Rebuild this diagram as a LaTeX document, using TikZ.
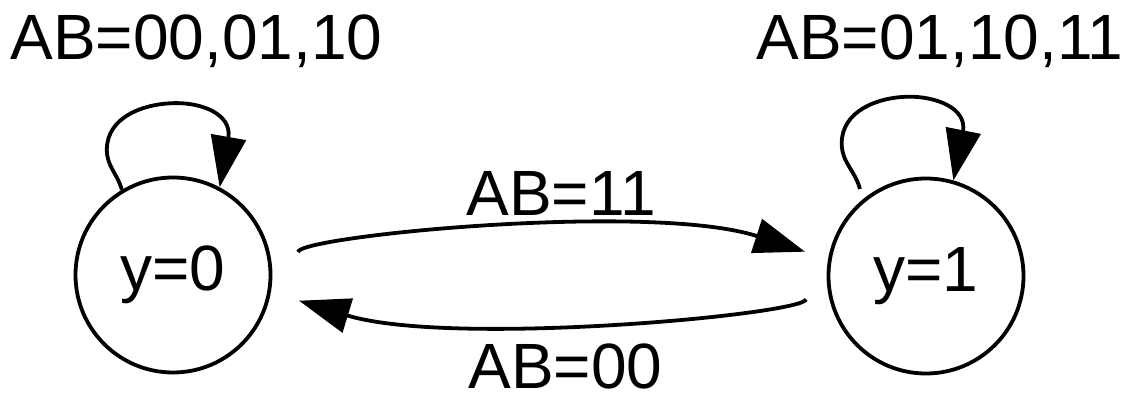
\documentclass[tikz,border=0pt]{standalone}
\usepackage{fontspec}
\setmainfont{Liberation Sans}
\usetikzlibrary{arrows.meta,calc}

\begin{document}
\begin{tikzpicture}[x=1pt,y=1pt,
    state/.style={circle,draw,line width=3.8pt,minimum size=195pt,inner sep=0pt},
    edge/.style={line width=3.8pt,-{Triangle[length=51pt,width=35pt]}},
    every node/.style={font=\fontsize{64}{77}\selectfont}]
    \useasboundingbox (0,0) rectangle (1136,402);

    % States
    \node[state] (s0) at (173,127) {y=0};
    \node[state] (s1) at (926,126) {y=1};

    % Self loops
    \draw[edge] (s0.121) to[out=105,in=270] ++(-15,40) to[out=90,in=180] ++(70,46.7)
        to[out=0,in=82] ++(51.6,-34.5) -- (s0.62);
    \draw[edge] ($(s1)+(-66,87)$) to[out=105,in=270] ++(-18.3,45.7) to[out=90,in=180] ++(68.3,46.6)
        to[out=0,in=80] ++(53,-35.3) -- (s1.74);

    % Transitions
    \draw[edge] ($(s0)+(125,23)$) to[out=85,in=162,out distance=16pt,in distance=162pt] ($(s1)+(-121,24.3)$);
    \draw[edge] ($(s1)+(-120,-23.3)$) to[out=-95,in=-17,out distance=15pt,in distance=160pt] ($(s0)+(126,-25.7)$);

    % Labels
    \node[anchor=base] (l0) at (196.5,342) {AB=00,01,10};
    \node[anchor=base] (l1) at (940,342) {AB=01,10,11};
    \node[anchor=base] (t01) at (561,186) {AB=11};
    \node[anchor=base,inner sep=0pt] (t10) at (565.5,14) {AB=00};
\end{tikzpicture}
\end{document}
